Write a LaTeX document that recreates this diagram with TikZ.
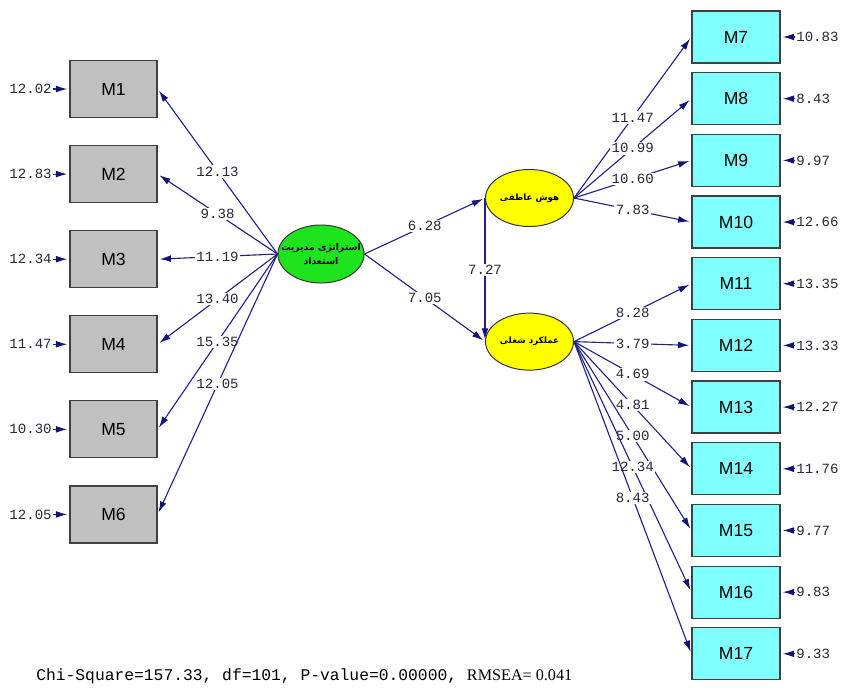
\documentclass[tikz,border=0pt]{standalone}
\usepackage{fontspec}
\setmainfont{Liberation Serif}
\setsansfont{Liberation Sans}
\setmonofont{Liberation Mono}
\newfontfamily\farsi[Script=Arabic]{DejaVu Sans}
\TeXXeTstate=1
\usetikzlibrary{arrows.meta}
\usetikzlibrary{positioning,shapes}
\definecolor{pathblue}{RGB}{35,35,130}
\definecolor{tipblue}{RGB}{20,20,120}
\definecolor{boxgray}{RGB}{192,192,192}
\definecolor{boxcyan}{RGB}{128,255,255}
\definecolor{latgreen}{RGB}{30,228,30}
\definecolor{latyellow}{RGB}{255,255,0}
\definecolor{numtext}{RGB}{40,40,55}

\begin{document}
\begin{tikzpicture}[%
        x=0.025cm, y=-0.025cm,
        >={Latex[length=8pt,width=4.8pt,color=tipblue]},
        shorten >=1.5pt,
        every edge/.append style={draw=pathblue, line width=0.8pt},
        lv/.style={ellipse, draw=black!80, line width=0.7pt, inner xsep=-10pt, inner ysep=0pt,
          align=center, font=\farsi\bfseries\fontsize{6.2}{8}\selectfont},
        gbox/.style={rectangle, draw=black!75, line width=0.9pt, fill=boxgray,
          minimum width=2.175cm, minimum height=1.425cm, font=\sffamily\fontsize{12.5}{14}\selectfont},
        cbox/.style={rectangle, draw=black!75, line width=0.9pt, fill=boxcyan,
          minimum width=2.2cm, minimum height=1.3cm, font=\sffamily\fontsize{12.5}{14}\selectfont},
        num/.style={text=numtext, inner sep=1pt, font=\ttfamily\fontsize{10}{12}\selectfont},
        lbl/.style={num, fill=white},
        node distance=0.67cm
      ]
      \useasboundingbox (0,0) rectangle (841,691);
      % left indicators
      \node (1) [gbox] at (113.5,89) {M1};
      \node (2) [gbox, below=of 1] {M2};
      \node (3) [gbox, below=of 2] {M3};
      \node (4) [gbox, below=of 3] {M4};
      \node (5) [gbox, below=of 4] {M5};
      \node (6) [gbox, below=of 5] {M6};
      % latent variables
      \node (0) [lv, fill=latgreen, minimum width=2.15cm, minimum height=1.45cm,
        font=\farsi\bfseries\fontsize{6.6}{10}\selectfont] at (321,254)
        {\beginR استراتژی مدیریت\endR\\\beginR استعداد\endR};
      \node (a) [lv, fill=latyellow, minimum width=2.2cm, minimum height=1.425cm] at (529.5,198)
        {\beginR هوش عاطفی\endR};
      \node (b) [lv, fill=latyellow, minimum width=2.2cm, minimum height=1.425cm, below=2.14cm of a]
        {\beginR عملکرد شغلی\endR};
      % right indicators
      \node (7) [cbox] at (736,37) {M7};
      \node (8) [cbox, below=0.21cm of 7] {M8};
      \node (9) [cbox, below=0.21cm of 8] {M9};
      \node (10) [cbox, below=0.21cm of 9] {M10};
      \node (11) [cbox, below=0.21cm of 10] {M11};
      \node (12) [cbox, below=0.21cm of 11] {M12};
      \node (13) [cbox, below=0.21cm of 12] {M13};
      \node (14) [cbox, below=0.21cm of 13] {M14};
      \node (15) [cbox, below=0.21cm of 14] {M15};
      \node (16) [cbox, below=0.21cm of 15] {M16};
      \node (17) [cbox, below=0.21cm of 16] {M17};
      % error terms
      \node (e1) [num, left=0.4cm of 1] {12.02};
      \node (e2) [num, left=0.4cm of 2] {12.83};
      \node (e3) [num, left=0.4cm of 3] {12.34};
      \node (e4) [num, left=0.4cm of 4] {11.47};
      \node (e5) [num, left=0.4cm of 5] {10.30};
      \node (e6) [num, left=0.4cm of 6] {12.05};
      \node (e7) [num, right=0.35cm of 7] {10.83};
      \node (e8) [num, right=0.35cm of 8] {8.43};
      \node (e9) [num, right=0.35cm of 9] {9.97};
      \node (e10) [num, right=0.35cm of 10] {12.66};
      \node (e11) [num, right=0.35cm of 11] {13.35};
      \node (e12) [num, right=0.35cm of 12] {13.33};
      \node (e13) [num, right=0.35cm of 13] {12.27};
      \node (e14) [num, right=0.35cm of 14] {11.76};
      \node (e15) [num, right=0.35cm of 15] {9.77};
      \node (e16) [num, right=0.35cm of 16] {9.83};
      \node (e17) [num, right=0.35cm of 17] {9.33};
      \path [draw] (e1) edge[->] (1)
      (e2) edge[->] (2)
      (e3) edge[->] (3)
      (e4) edge[->] (4)
      (e5) edge[->] (5)
      (e6) edge[->] (6)
      (e7) edge[->] (7)
      (e8) edge[->] (8)
      (e9) edge[->] (9)
      (e10) edge[->] (10)
      (e11) edge[->] (11)
      (e12) edge[->] (12)
      (e13) edge[->] (13)
      (e14) edge[->] (14)
      (e15) edge[->] (15)
      (e16) edge[->] (16)
      (e17) edge[->] (17);
      % loadings
      \path [draw] (0.west) edge[->] node[lbl] {12.13} (1.east)
      (0.west) edge[->] node[lbl] {9.38} (2.east)
      (0.west) edge[->] node[lbl] {11.19} (3.east)
      (0.west) edge[->] node[lbl] {13.40} (4.east)
      (0.west) edge[->] node[lbl] {15.35} (5.east)
      (0.west) edge[->] node[lbl] {12.05} (6.east)
      (0.east) edge[->] node[lbl] {6.28} (a.west)
      (0.east) edge[->] node[lbl] {7.05} (b.west)
      (a.west) edge[->] node[lbl] {7.27} (b.west)
      (a.east) edge[->] node[lbl] {11.47} (7.west)
      (a.east) edge[->] node[lbl] {10.99} (8.west)
      (a.east) edge[->] node[lbl] {10.60} (9.west)
      (a.east) edge[->] node[lbl] {7.83} (10.west)
      (b.east) edge[->] node[lbl] {8.28} (11.west)
      (b.east) edge[->] node[lbl] {3.79} (12.west)
      (b.east) edge[->] node[lbl] {4.69} (13.west)
      (b.east) edge[->] node[lbl] {4.81} (14.west)
      (b.east) edge[->] node[lbl] {5.00} (15.west)
      (b.east) edge[->] node[lbl] {12.34} (16.west)
      (b.east) edge[->] node[lbl] {8.43} (17.west);
      \node (fit) [anchor=west, inner sep=0pt] at (36,676)
        {\ttfamily\fontsize{11.6}{13}\selectfont Chi-Square=157.33, df=101, P-value=0.00000, \rmfamily\fontsize{11.5}{13}\selectfont RMSEA= 0.041};
    \end{tikzpicture}
\end{document}
